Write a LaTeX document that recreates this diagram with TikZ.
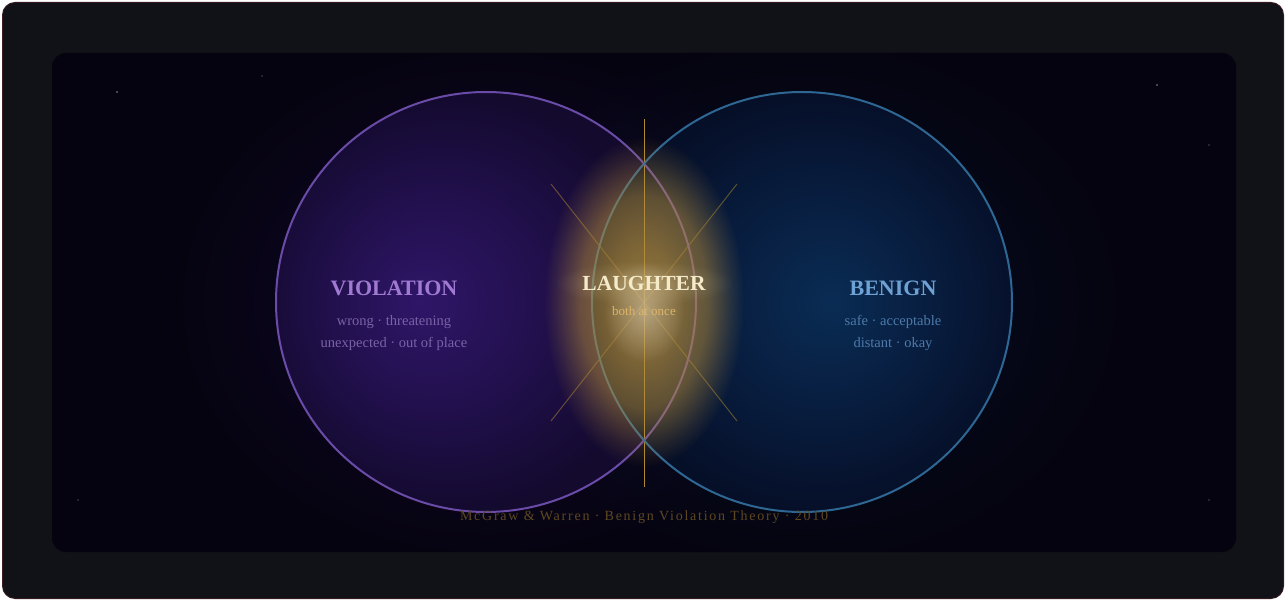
\documentclass[tikz,border=0pt]{standalone}
\usepackage{fontspec}
\setmainfont{Liberation Serif}
\usetikzlibrary{fadings}
\definecolor{outerbg}{HTML}{111118}
\definecolor{outerrim}{HTML}{3a1c22}
\definecolor{panelbg}{HTML}{05030F}
\definecolor{vcenter}{HTML}{2F1668}
\definecolor{vmid}{HTML}{22104E}
\definecolor{vedge}{HTML}{130A2E}
\definecolor{bcenter}{HTML}{0A2C54}
\definecolor{bmid}{HTML}{081E40}
\definecolor{bedge}{HTML}{060F28}
\definecolor{vstroke}{HTML}{6A4CA8}
\definecolor{bstroke}{HTML}{2E6794}
\definecolor{goldline}{HTML}{B08A30}
\definecolor{goldglow}{HTML}{B48C3C}
\definecolor{vtitle}{HTML}{A07AD2}
\definecolor{vsub}{HTML}{7A62A6}
\definecolor{btitle}{HTML}{6EA2D4}
\definecolor{bsub}{HTML}{4C7AAA}
\definecolor{ltitle}{HTML}{F6EBC8}
\definecolor{lsub}{HTML}{DDB468}
\definecolor{foot}{HTML}{5E4822}
\definecolor{star}{HTML}{8A8AA0}
\pgfdeclareradialshading{violshade}{\pgfpoint{-8bp}{0bp}}{color(0bp)=(vcenter); color(12bp)=(vmid); color(25bp)=(vedge); color(50bp)=(vedge)}
\pgfdeclareradialshading{beniShade}{\pgfpoint{3.5bp}{0bp}}{color(0bp)=(bcenter); color(12bp)=(bmid); color(25bp)=(bedge); color(50bp)=(bedge)}
\pgfdeclareradialshading{glowfadeshade}{\pgfpointorigin}{color(0bp)=(pgftransparent!5); color(8bp)=(pgftransparent!18); color(16bp)=(pgftransparent!40); color(22bp)=(pgftransparent!82); color(25bp)=(pgftransparent!100); color(50bp)=(pgftransparent!100)}
\pgfdeclarefading{glowfade}{\pgfuseshading{glowfadeshade}}
\pgfdeclareradialshading{softfadeshade}{\pgfpointorigin}{color(0bp)=(pgftransparent!0); color(25bp)=(pgftransparent!100); color(50bp)=(pgftransparent!100)}
\pgfdeclarefading{softfade}{\pgfuseshading{softfadeshade}}
\tikzset{
  circstroke/.style={line width=2pt},
  goldray/.style={draw=goldline, line width=1pt},
  diagray/.style={draw=goldline, line width=1pt, draw opacity=0.5},
  titletext/.style={font=\bfseries\fontsize{22}{26}\selectfont},
  subtext/.style={font=\fontsize{14.5}{22}\selectfont, align=center},
  stardot/.style={fill=star},
}
\begin{document}
\begin{tikzpicture}[x=1pt,y=-1pt]
\useasboundingbox (0,0) rectangle (1286,601);
% outer frame
\path[fill=outerrim, rounded corners=13pt] (2,2) rectangle (1284,599);
\path[fill=outerbg, rounded corners=12pt] (3,3) rectangle (1283,598);
% panel
\path[fill=panelbg, rounded corners=14pt] (52,53) rectangle (1236,552);
% faint halos, kept inside the panel
\begin{scope}
\clip[rounded corners=14pt] (52,53) rectangle (1236,552);
\fill[vcenter, path fading=softfade, fill opacity=0.3] (486,302) ellipse[x radius=340pt, y radius=280pt];
\fill[bcenter, path fading=softfade, fill opacity=0.3] (802,302) ellipse[x radius=340pt, y radius=280pt];
\end{scope}
% stars
\fill[stardot] (117,92) circle[radius=0.8pt];
\fill[stardot] (262,76) circle[radius=0.6pt];
\fill[stardot] (1157,85) circle[radius=0.8pt];
\fill[stardot] (1209,145) circle[radius=0.6pt];
\fill[stardot] (78,500) circle[radius=0.6pt];
\fill[stardot] (1209,500) circle[radius=0.6pt];
% circle fills
\path[shading=violshade] (486,302) circle[radius=210pt];
\begin{scope}
\clip (802,302) circle[radius=210pt];
\path[shading=beniShade] (802,302) circle[radius=210pt];
\end{scope}
% rays
\coordinate (rayTop) at (644,119);
\coordinate (rayBot) at (644,487);
\coordinate (dA) at (551,184);
\coordinate (dB) at (737,421);
\coordinate (dC) at (737,184);
\coordinate (dD) at (551,421);
\draw[goldray] (rayTop) -- (rayBot);
\draw[diagray] (dA) -- (dB);
\draw[diagray] (dC) -- (dD);
% circle strokes
\node[circle, draw=vstroke, circstroke, minimum size=420pt, inner sep=0pt] (violCircle) at (486,302) {};
\node[circle, draw=bstroke, circstroke, minimum size=420pt, inner sep=0pt] (benCircle) at (802,302) {};
% golden glow
\fill[goldglow, path fading=glowfade, fill opacity=0.85] (644,302) ellipse[x radius=100pt, y radius=165pt];
\fill[white, path fading=softfade, fill opacity=0.35] (644,312) ellipse[x radius=40pt, y radius=50pt];
\fill[ltitle, path fading=softfade, fill opacity=0.25] (644,283) ellipse[x radius=90pt, y radius=22pt];
% texts
\node[titletext, text=vtitle] (violTitle) at (394,288) {VIOLATION};
\node[subtext, text=vsub] (violSub) at (394,333) {wrong · threatening\\unexpected · out of place};
\node[titletext, text=btitle] (benTitle) at (893,288) {BENIGN};
\node[subtext, text=bsub] (benSub) at (893,333) {safe · acceptable\\distant · okay};
\node[font=\bfseries\fontsize{21.5}{26}\selectfont, text=ltitle] (laughTitle) at (644,283) {LAUGHTER};
\node[font=\fontsize{13}{16}\selectfont, text=lsub] (laughSub) at (644,311) {both at once};
\node[font=\fontsize{14}{16}\selectfont\addfontfeature{LetterSpace=12.5}, text=foot] (footer) at (644,517) {McGraw \& Warren · Benign Violation Theory · 2010};
\end{tikzpicture}
\end{document}
